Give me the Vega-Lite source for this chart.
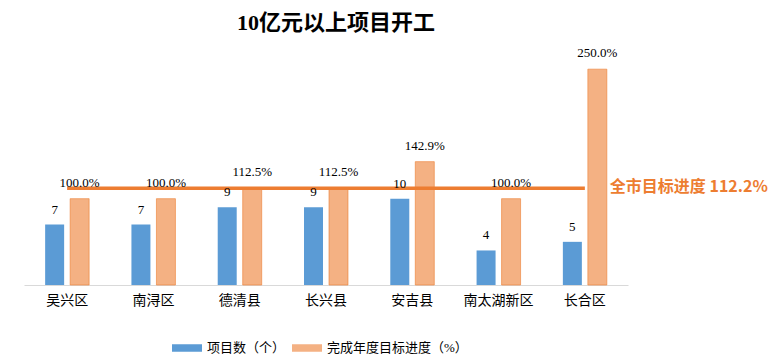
{
  "$schema": "https://vega.github.io/schema/vega-lite/v6.json",
  "width": 604,
  "height": 259,
  "autosize": "none",
  "padding": {"left": 24, "top": 26, "right": 140, "bottom": 77},
  "background": "white",
  "title": {
    "text": "10亿元以上项目开工",
    "font": "Liberation Serif, Noto Sans CJK SC",
    "fontSize": 22,
    "fontWeight": "bold",
    "color": "#000000",
    "anchor": "middle",
    "dx": 10,
    "offset": -9
  },
  "datasets": {
    "bars": [
      {"区县": "吴兴区", "系列": "项目数（个）", "值": 7},
      {"区县": "南浔区", "系列": "项目数（个）", "值": 7},
      {"区县": "德清县", "系列": "项目数（个）", "值": 9},
      {"区县": "长兴县", "系列": "项目数（个）", "值": 9},
      {"区县": "安吉县", "系列": "项目数（个）", "值": 10},
      {"区县": "南太湖新区", "系列": "项目数（个）", "值": 4},
      {"区县": "长合区", "系列": "项目数（个）", "值": 5},
      {"区县": "吴兴区", "系列": "完成年度目标进度（%）", "值": 1.0},
      {"区县": "南浔区", "系列": "完成年度目标进度（%）", "值": 1.0},
      {"区县": "德清县", "系列": "完成年度目标进度（%）", "值": 1.125},
      {"区县": "长兴县", "系列": "完成年度目标进度（%）", "值": 1.125},
      {"区县": "安吉县", "系列": "完成年度目标进度（%）", "值": 1.429},
      {"区县": "南太湖新区", "系列": "完成年度目标进度（%）", "值": 1.0},
      {"区县": "长合区", "系列": "完成年度目标进度（%）", "值": 2.5}
    ],
    "target": [
      {"区县": "吴兴区", "目标": 1.122},
      {"区县": "南浔区", "目标": 1.122},
      {"区县": "德清县", "目标": 1.122},
      {"区县": "长兴县", "目标": 1.122},
      {"区县": "安吉县", "目标": 1.122},
      {"区县": "南太湖新区", "目标": 1.122},
      {"区县": "长合区", "目标": 1.122}
    ]
  },
  "config": {
    "view": {"stroke": null},
    "axis": {"grid": false}
  },
  "encoding": {
    "x": {
      "field": "区县",
      "type": "nominal",
      "sort": ["吴兴区", "南浔区", "德清县", "长兴县", "安吉县", "南太湖新区", "长合区"],
      "scale": {"paddingInner": 0, "paddingOuter": 0},
      "axis": {
        "title": null,
        "labelAngle": 0,
        "ticks": false,
        "domainColor": "#D9D9D9",
        "domainWidth": 1,
        "labelFont": "Liberation Serif, Noto Sans CJK SC",
        "labelFontSize": 14,
        "labelColor": "#000000",
        "labelPadding": 8
      }
    }
  },
  "layer": [
    {
      "data": {"name": "bars"},
      "transform": [{"filter": "datum['系列'] === '项目数（个）'"}],
      "mark": {"type": "bar"},
      "encoding": {
        "xOffset": {"field": "系列", "type": "nominal", "sort": null, "scale": {"domain": ["项目数（个）", "完成年度目标进度（%）"], "paddingInner": 0.24, "paddingOuter": 0.846}},
        "y": {"field": "值", "type": "quantitative", "scale": {"domain": [0, 30]}, "axis": null},
        "color": {
          "field": "系列", "type": "nominal", "sort": null,
          "scale": {"domain": ["项目数（个）", "完成年度目标进度（%）"], "range": ["#5B9BD5", "#F4B183"]},
          "legend": {
            "title": null,
            "orient": "none",
            "legendX": 148,
            "legendY": 307,
            "direction": "horizontal",
            "symbolType": "M-1,-0.25H1V0.25H-1Z",
            "symbolSize": 900,
            "symbolStrokeWidth": 0,
            "labelFont": "Liberation Serif, Noto Sans CJK SC",
            "labelFontSize": 13,
            "labelColor": "#000000",
            "labelOffset": 5,
            "columnPadding": 6
          }
        }
      }
    },
    {
      "data": {"name": "bars"},
      "transform": [{"filter": "datum['系列'] === '完成年度目标进度（%）'"}],
      "mark": {"type": "bar", "stroke": "#ED7D31", "strokeWidth": 0.6},
      "encoding": {
        "xOffset": {"field": "系列", "type": "nominal", "sort": null},
        "y": {"field": "值", "type": "quantitative", "scale": {"domain": [0, 3]}, "axis": null},
        "color": {"field": "系列", "type": "nominal", "sort": null}
      }
    },
    {
      "data": {"name": "target"},
      "mark": {"type": "line", "color": "#ED7D31", "strokeWidth": 3.5},
      "encoding": {
        "y": {"field": "目标", "type": "quantitative", "scale": {"domain": [0, 3]}, "axis": null}
      }
    },
    {
      "data": {"name": "bars"},
      "transform": [{"filter": "datum['系列'] === '项目数（个）'"}],
      "mark": {"type": "text", "baseline": "alphabetic", "dy": -11, "font": "Liberation Serif", "fontSize": 13, "color": "#000000"},
      "encoding": {
        "xOffset": {"field": "系列", "type": "nominal", "sort": null},
        "y": {"field": "值", "type": "quantitative", "scale": {"domain": [0, 30]}, "axis": null},
        "text": {"field": "值", "type": "quantitative"}
      }
    },
    {
      "data": {"name": "bars"},
      "transform": [{"filter": "datum['系列'] === '完成年度目标进度（%）'"}],
      "mark": {"type": "text", "baseline": "alphabetic", "dy": -12, "font": "Liberation Serif", "fontSize": 13, "color": "#000000"},
      "encoding": {
        "xOffset": {"field": "系列", "type": "nominal", "sort": null},
        "y": {"field": "值", "type": "quantitative", "scale": {"domain": [0, 3]}, "axis": null},
        "text": {"field": "值", "type": "quantitative", "format": ".1%"}
      }
    },
    {
      "data": {"name": "target"},
      "transform": [{"filter": "datum['区县'] === '长合区'"}],
      "mark": {"type": "text", "text": "全市目标进度 112.2%", "align": "left", "baseline": "middle", "dx": 25, "dy": -1, "font": "Noto Sans CJK SC", "fontSize": 16, "fontWeight": "bold", "color": "#ED7D31"},
      "encoding": {
        "y": {"field": "目标", "type": "quantitative", "scale": {"domain": [0, 3]}, "axis": null}
      }
    }
  ],
  "resolve": {"scale": {"y": "independent"}}
}
